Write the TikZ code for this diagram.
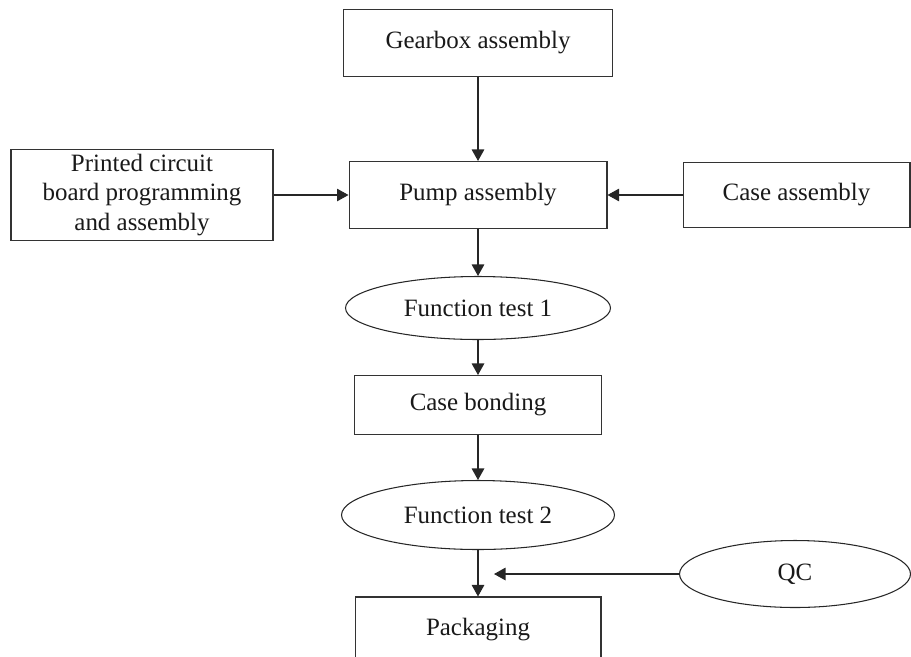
\documentclass[tikz,border=0pt]{standalone}
\usepackage{fontspec}
\setmainfont{Liberation Serif}
\usetikzlibrary{arrows.meta,shapes.geometric}
\tikzset{
  procbox/.style={rectangle, draw=black!80, line width=0.6pt, inner sep=0pt, align=center, text=black!90, font=\fontsize{14.2}{17}\selectfont},
  testoval/.style={ellipse, draw=black!85, line width=0.6pt, inner sep=0pt, text=black!90, font=\fontsize{14.2}{17}\selectfont},
  flow/.style={line width=0.6pt, draw=black!85, -{Triangle[length=0.23cm, width=0.25cm]}},
}
\begin{document}
\begin{tikzpicture}[x=0.02cm, y=-0.02cm]
\useasboundingbox (0,0) rectangle (911,656);
\node[procbox, minimum width=5.38cm, minimum height=1.34cm] (gear) at (478,43) {Gearbox assembly};
\node[procbox, minimum width=5.16cm, minimum height=1.34cm] (pump) at (478,195) {Pump assembly};
\node[procbox, minimum width=5.24cm, minimum height=1.82cm] (pcb) at (142,195) {Printed circuit\\board programming\\and assembly};
\node[procbox, minimum width=4.54cm, minimum height=1.30cm] (case) at (796.5,195) {Case assembly};
\node[testoval, minimum width=5.30cm, minimum height=1.26cm] (test1) at (478,308) {Function test 1};
\node[procbox, minimum width=4.94cm, minimum height=1.18cm] (bond) at (478,405) {Case bonding};
\node[testoval, minimum width=5.46cm, minimum height=1.38cm] (test2) at (478,515) {Function test 2};
\node[testoval, minimum width=4.62cm, minimum height=1.34cm] (qc) at (795,574) {QC};
\node[procbox, minimum width=4.92cm, minimum height=1.32cm] (pack) at (478,630) {Packaging};
\coordinate (qcin) at (494,574);
% main line
\draw[flow] (gear) -- (pump);
\draw[flow] (pcb) -- (pump);
\draw[flow] (case) -- (pump);
\draw[flow] (pump) -- (test1);
\draw[flow] (test1) -- (bond);
\draw[flow] (bond) -- (test2);
\draw[flow] (test2) -- (pack);
\draw[flow] (qc) -- (qcin);
\end{tikzpicture}
\end{document}
